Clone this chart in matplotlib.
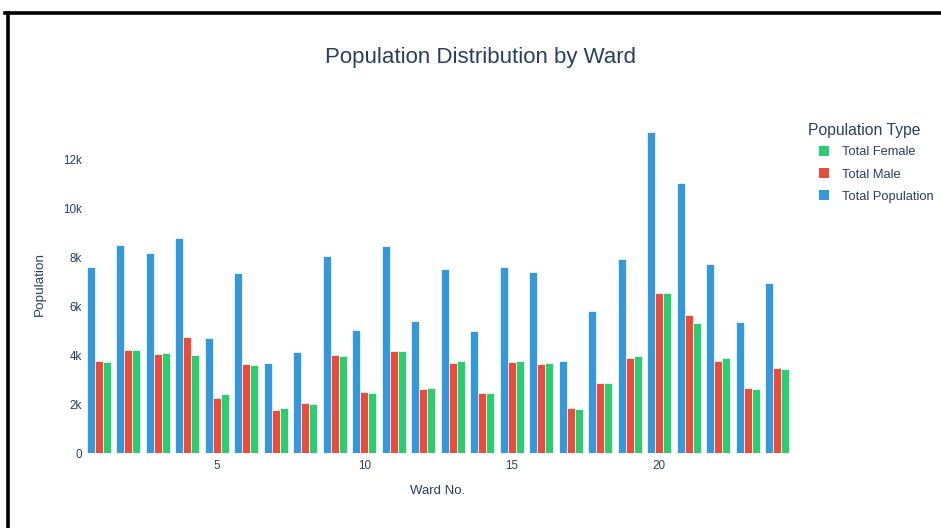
import matplotlib
matplotlib.use("Agg")
import matplotlib.pyplot as plt
from matplotlib.lines import Line2D
from matplotlib.patches import Patch
import numpy as np

plt.rcParams['font.family'] = ['Liberation Sans', 'DejaVu Sans']

wards = list(range(1, 25))
total_population = [7580, 8480, 8190, 8790, 4690, 7350, 3690, 4150, 8030, 5030, 8440, 5390,
                    7510, 4990, 7580, 7400, 3760, 5820, 7930, 13120, 11020, 7730, 5360, 6950]
total_male = [3780, 4220, 4040, 4750, 2240, 3660, 1780, 2070, 4000, 2500, 4190, 2640,
              3670, 2480, 3710, 3650, 1850, 2870, 3900, 6520, 5630, 3780, 2650, 3460]
total_female = [3740, 4230, 4080, 3990, 2410, 3620, 1850, 2010, 3950, 2460, 4190, 2680,
                3780, 2440, 3780, 3670, 1820, 2860, 3960, 6540, 5310, 3880, 2630, 3440]
x_ticks = [5, 10, 15, 20]
y_ticks = [0, 2000, 4000, 6000, 8000, 10000, 12000]
y_tick_labels = ["0", "2k", "4k", "6k", "8k", "10k", "12k"]

C_POP = "#3498db"
C_MALE = "#e74c3c"
C_FEM = "#2ecc71"
TXT = "#2a3f5f"

W, H = 941, 528
fig = plt.figure(figsize=(W / 100, H / 100), dpi=100)
fig.patch.set_facecolor("white")

left, right, bottom_px, top_px = 84, 792, 453.3, 115
ax = fig.add_axes([left / W, (H - bottom_px) / H, (right - left) / W, (bottom_px - top_px) / H])

x = np.array(wards, dtype=float)
bw = 0.8 / 3
ax.bar(x - bw, total_population, width=bw, color=C_POP, edgecolor="white", linewidth=0.5, label="Total Population")
ax.bar(x, total_male, width=bw, color=C_MALE, edgecolor="white", linewidth=0.5, label="Total Male")
ax.bar(x + bw, total_female, width=bw, color=C_FEM, edgecolor="white", linewidth=0.5, label="Total Female")

ax.set_xlim(0.5, 24.5)
ax.set_ylim(0, 13800)
ax.set_xticks(x_ticks)
ax.set_xticklabels([str(t) for t in x_ticks])
ax.set_yticks(y_ticks)
ax.set_yticklabels(y_tick_labels)
ax.tick_params(axis="both", length=0, labelsize=8.4, labelcolor=TXT)
ax.tick_params(axis="x", pad=5)
ax.tick_params(axis="y", pad=1.5)
for s in ax.spines.values():
    s.set_visible(False)
ax.set_facecolor("white")

ax.set_xlabel("Ward No.", fontsize=9.5, color=TXT, labelpad=9)
ax.set_ylabel("Population", fontsize=9.7, color=TXT, labelpad=12.5)

fig.text(480 / W, 1 - 57 / H, "Population Distribution by Ward", ha="center", va="center",
         fontsize=16, color=TXT)

# legend
fig.text(808 / W, 1 - 131 / H, "Population Type", ha="left", va="center",
         fontsize=11.3, color=TXT)
handles = [Patch(facecolor=C_FEM, label="Total Female"),
           Patch(facecolor=C_MALE, label="Total Male"),
           Patch(facecolor=C_POP, label="Total Population")]
leg = fig.legend(handles=handles, loc="upper left", bbox_to_anchor=(819 / W, 1 - 146 / H),
                 frameon=False, fontsize=9.3,
                 handlelength=0.8, handleheight=0.8, handletextpad=1.0, labelspacing=0.75,
                 borderaxespad=0, borderpad=0)
for t in leg.get_texts():
    t.set_color(TXT)

# frame lines of the screenshot
fig.add_artist(Line2D([5 / W, 1.0], [1 - 13 / H, 1 - 13 / H], transform=fig.transFigure,
                      color="black", linewidth=2.6))
fig.add_artist(Line2D([7.5 / W, 7.5 / W], [0, 1 - 13 / H], transform=fig.transFigure,
                      color="black", linewidth=2.6))

fig.savefig("out.png", dpi=100, facecolor="white")
